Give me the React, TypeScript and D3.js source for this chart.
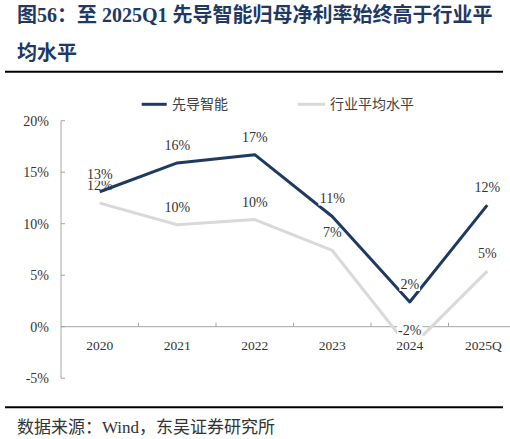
import React from "react";
import * as d3 from "d3";

const categories = ["2020", "2021", "2022", "2023", "2024", "2025Q"];
const xiandaoValues = [0.131, 0.159, 0.167, 0.107, 0.024, 0.118];
const industryValues = [0.12, 0.099, 0.104, 0.074, -0.021, 0.054];
const yTicks = [-0.05, 0, 0.05, 0.1, 0.15, 0.2];
const seriesNames = ["先导智能", "行业平均水平"];
const titleLine1 = "图56：至 2025Q1 先导智能归母净利率始终高于行业平";
const titleLine2 = "均水平";
const sourceText = "数据来源：Wind，东吴证券研究所";

const BLUE = "#1f3a60";
const GRAY = "#d9d9d9";
const AXIS = "#a6a6a6";
const NUM_FONT = "'Liberation Serif', 'Times New Roman', serif";
const CJK_FONT = "'Liberation Serif', 'Noto Sans CJK SC', serif";

const pct = (v: number) => `${Math.round(v * 100)}%`;

function textWidth(s: string, fs: number) {
  let w = 0;
  for (const ch of s) {
    if (ch === "%") w += 0.833;
    else if (ch === "-") w += 0.333;
    else w += 0.5;
  }
  return w * fs;
}

export default function App() {
  const W = 510;
  const H = 439;
  const x = d3.scaleBand<string>().domain(categories).range([61, 526]);
  const y = d3.scaleLinear().domain([-0.05, 0.2]).range([378.2, 120.7]);
  const cx = (i: number) => (x(categories[i]) as number) + x.bandwidth() / 2;
  const line = d3
    .line<number>()
    .x((_, i) => cx(i))
    .y((d) => y(d));
  const fs = 14;
  const y0 = y(0);

  const labels = (vals: number[], key: string) =>
    vals.map((v, i) => {
      const t = pct(v);
      const w = textWidth(t, fs);
      const by = y(v) - 13;
      return (
        <g key={key + i}>
          <rect x={cx(i) - w / 2 - 1} y={by - 10.5} width={w + 2} height={12.5} fill="#fff" />
          <text x={cx(i)} y={by} textAnchor="middle" fontSize={fs} fontFamily={NUM_FONT} fill="#333">
            {t}
          </text>
        </g>
      );
    });

  return (
    <svg
      width={W}
      height={H}
      style={{ position: "absolute", left: 0, top: 0, background: "#fff", overflow: "hidden" }}
    >
      <rect x={0} y={0} width={W} height={H} fill="#fff" />
      {/* Title */}
      <text x={17} y={22} fontSize={20} fontWeight="bold" fontFamily={CJK_FONT} fill="#1f3864">
        {titleLine1}
      </text>
      <text x={17} y={60} fontSize={20} fontWeight="bold" fontFamily={CJK_FONT} fill="#1f3864">
        {titleLine2}
      </text>
      <line x1={5} x2={503} y1={71.7} y2={71.7} stroke="#000" strokeWidth={2} />

      {/* Legend */}
      <line x1={141.7} x2={166.7} y1={104.3} y2={104.3} stroke={BLUE} strokeWidth={3} />
      <text x={172} y={109} fontSize={14} fontFamily="'Noto Sans CJK SC', sans-serif" fill="#404040">
        {seriesNames[0]}
      </text>
      <line x1={297.7} x2={325} y1={104.3} y2={104.3} stroke={GRAY} strokeWidth={3} />
      <text x={330} y={109} fontSize={14} fontFamily="'Noto Sans CJK SC', sans-serif" fill="#404040">
        {seriesNames[1]}
      </text>

      {/* Y axis */}
      <line x1={61} x2={61} y1={y(0.2)} y2={y(-0.05)} stroke={AXIS} strokeWidth={1} />
      {yTicks.map((t) => (
        <g key={"yt" + t}>
          <line x1={61} x2={65} y1={y(t)} y2={y(t)} stroke={AXIS} strokeWidth={1} />
          <text
            x={49}
            y={y(t)}
            dy="0.35em"
            textAnchor="end"
            fontSize={fs}
            fontFamily={NUM_FONT}
            fill="#333"
          >
            {pct(t)}
          </text>
        </g>
      ))}

      {/* X axis */}
      <line x1={61} x2={W} y1={y0} y2={y0} stroke={AXIS} strokeWidth={1} />
      {categories.slice(1).map((c) => (
        <line
          key={"xt" + c}
          x1={x(c) as number}
          x2={x(c) as number}
          y1={y0}
          y2={y0 - 4}
          stroke={AXIS}
          strokeWidth={1}
        />
      ))}

      {/* Series */}
      <path d={line(industryValues) || ""} fill="none" stroke={GRAY} strokeWidth={3} strokeLinejoin="round" />
      {labels(industryValues, "g")}
      <path d={line(xiandaoValues) || ""} fill="none" stroke={BLUE} strokeWidth={3} strokeLinejoin="round" />
      {labels(xiandaoValues, "b")}

      {/* X tick labels */}
      {categories.map((c, i) => {
        const w = textWidth(c, 13.5) + (c.includes("Q") ? 3 : 0);
        return (
          <g key={"xl" + c}>
            <rect x={cx(i) - w / 2 - 1} y={336} width={w + 2} height={13} fill="#fff" />
            <text x={cx(i) - (c.includes("Q") ? 4 : 0)} y={350} textAnchor="middle" fontSize={13.5} fontFamily={NUM_FONT} fill="#333">
              {c}
            </text>
          </g>
        );
      })}

      {/* Footer */}
      <line x1={5} x2={503} y1={407.3} y2={407.3} stroke="#000" strokeWidth={2} />
      <text x={17} y={432.5} fontSize={17} fontFamily={CJK_FONT} fill="#333">
        {sourceText}
      </text>
    </svg>
  );
}
